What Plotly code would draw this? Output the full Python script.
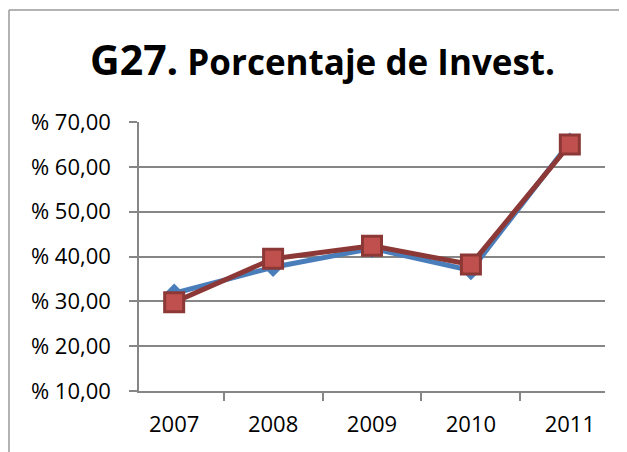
import plotly.graph_objects as go

years = ["2007", "2008", "2009", "2010", "2011"]
serie_azul = [31.8, 37.6, 41.8, 36.9, 65.5]
serie_roja = [29.8, 39.5, 42.4, 38.2, 65.0]
tick_vals = [10, 20, 30, 40, 50, 60, 70]
tick_text = ["% 10,00", "% 20,00", "% 30,00", "% 40,00", "% 50,00", "% 60,00", "% 70,00"]

FONT = "Open Sans, Liberation Sans, sans-serif"

# page body has an 8px margin; plot area target: x 139..605, y 122..391
OFF = 8
L, R, T, B = 139, 605, 122, 391
W, H = 627, 452
PW, PH = R - L, B - T


def px(x):
    return (x - L) / PW


def py(y):
    return (B - y) / PH


fig = go.Figure()
fig.add_trace(go.Scatter(
    x=years, y=serie_azul, mode="lines+markers",
    line=dict(color="#4A7EBB", width=5),
    marker=dict(symbol="diamond", size=15, color="#4A7EBB"),
    showlegend=False,
))
fig.add_trace(go.Scatter(
    x=years, y=serie_roja, mode="lines+markers",
    line=dict(color="#8C3836", width=5),
    marker=dict(symbol="square", size=19, color="#C0504D",
                line=dict(color="#8C3836", width=3)),
    showlegend=False,
))

fig.update_layout(
    width=W, height=H,
    margin=dict(l=L - OFF, r=W - R + OFF, t=T - OFF, b=H - B + OFF),
    paper_bgcolor="white", plot_bgcolor="white",
    font=dict(family=FONT, size=22, color="black"),
    xaxis=dict(
        type="category", tickson="boundaries", ticks="outside", ticklen=8,
        tickcolor="#868686", tickwidth=1.5,
        showline=True, linecolor="#868686", linewidth=1.5,
        showgrid=False, tickfont=dict(size=22), fixedrange=True,
        ticklabelstandoff=13,
    ),
    yaxis=dict(
        range=[10, 70], tickvals=tick_vals, ticktext=tick_text,
        ticks="outside", ticklen=8, tickcolor="#868686", tickwidth=1.5,
        showline=True, linecolor="#868686", linewidth=1.5,
        showgrid=True, gridcolor="#868686", gridwidth=1.5,
        zeroline=False, tickfont=dict(size=22), fixedrange=True,
        ticklabelstandoff=14,
    ),
    shapes=[
        dict(type="line", xref="paper", yref="paper",
             x0=px(9), x1=px(700), y0=py(10), y1=py(10),
             line=dict(color="#9A9A9A", width=1.5)),
        dict(type="line", xref="paper", yref="paper",
             x0=px(9), x1=px(9), y0=py(10), y1=py(500),
             line=dict(color="#9A9A9A", width=1.5)),
    ],
    annotations=[dict(
        xref="paper", yref="paper", x=px(322), y=py(59),
        xanchor="center", yanchor="middle", showarrow=False,
        text="<b><span style='font-size:41px'>G27.</span> Porcentaje de Invest.</b>",
        font=dict(family=FONT, size=35, color="black"),
    )],
)

fig.write_html("out.html")
